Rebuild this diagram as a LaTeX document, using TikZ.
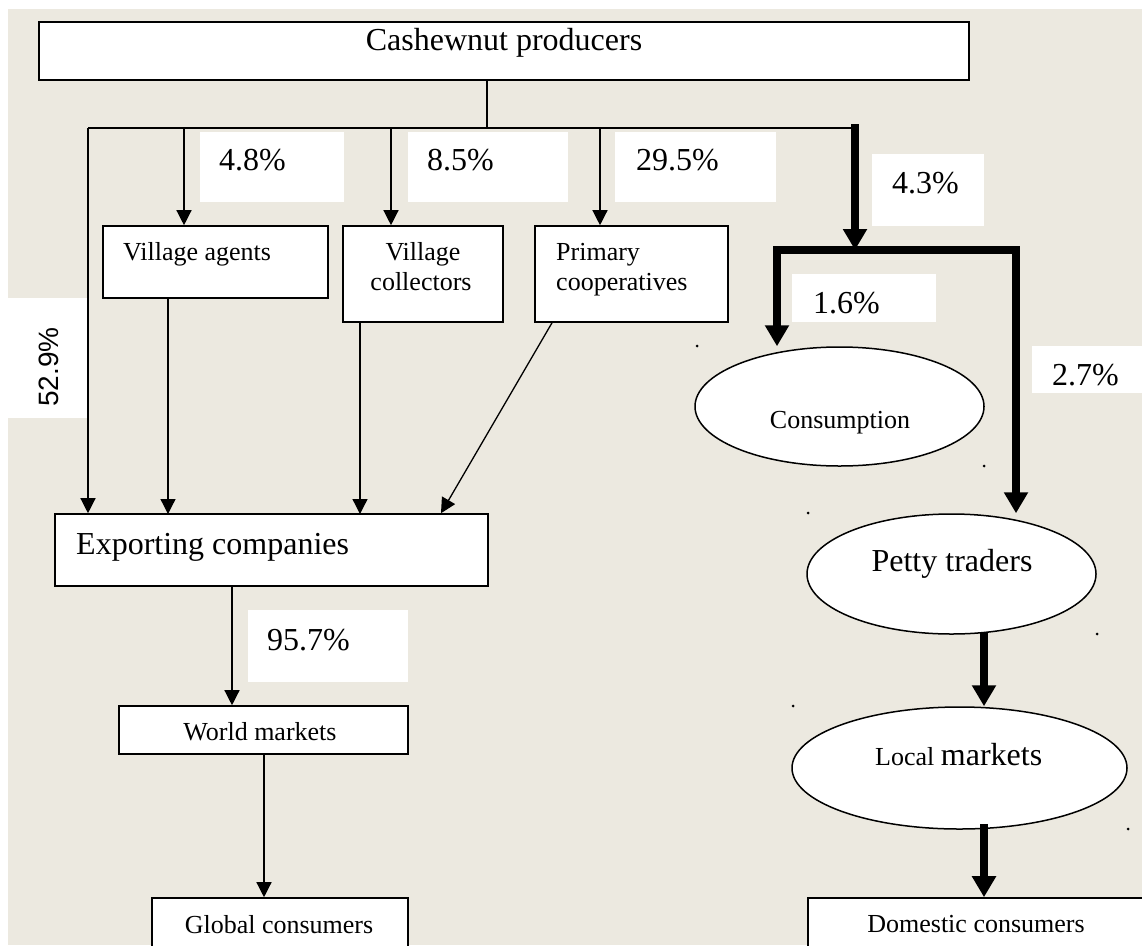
\documentclass[tikz,border=0pt]{standalone}
\usepackage{fontspec}
\setmainfont{Liberation Serif}
\newfontfamily\pctsans{Liberation Sans}
\usepackage{tikz}
\usetikzlibrary{shapes,arrows,positioning,calc}
\usetikzlibrary{arrows.meta}
\tikzset{>={Triangle[width=15pt,length=15pt]}}
\definecolor{paper}{RGB}{236,233,224}
\newcommand{\smalltxt}{\fontsize{26}{30}\selectfont}
\newcommand{\bigtxt}{\fontsize{32}{36}\selectfont}

\begin{document}
\begin{tikzpicture}[x=1pt, y=-1pt,
    box/.style={rectangle, draw, fill=white, line width=1.6pt, inner sep=0pt},
    oval/.style={ellipse, draw, fill=white, line width=1.5pt, inner sep=0pt},
    pct/.style={rectangle, fill=white, inner sep=0pt},
    txt/.style={inner sep=0pt, anchor=base},
    link/.style={line width=1.3pt},
    flow/.style={->, line width=1.3pt},
    bigflow/.style={-{Triangle[width=23pt,length=21pt]}, line width=8pt}]
    \useasboundingbox (0,0) rectangle (1142,945);
    \clip (0,0) rectangle (1142,945);
    \fill[white] (0,0) rectangle (1142,945);
    \fill[paper] (8,9) rectangle (1142,945);

    % percentage boxes
    \node[pct, minimum width=144pt, minimum height=70pt] (p48) at (272,167) {};
    \node[pct, minimum width=160pt, minimum height=70pt] (p85) at (488,167) {};
    \node[pct, minimum width=161pt, minimum height=70pt] (p295) at (695.5,167) {};
    \node[pct, minimum width=112pt, minimum height=72pt] (p43) at (928,190) {};
    \node[pct, minimum width=144pt, minimum height=48pt] (p16) at (864,298) {};
    \node[pct, minimum width=112pt, minimum height=47pt] (p27) at (1088,369.5) {};
    \node[pct, minimum width=160pt, minimum height=72pt] (p957) at (328,646) {};
    \node[pct, minimum width=80pt, minimum height=120pt] (p529) at (47,358) {};
    \node[txt, anchor=base west] at (219,170) {\bigtxt 4.8\%};
    \node[txt, anchor=base west] at (427,170) {\bigtxt 8.5\%};
    \node[txt, anchor=base west] at (636,170) {\bigtxt 29.5\%};
    \node[txt, anchor=base west] at (892,193) {\bigtxt 4.3\%};
    \node[txt, anchor=base west] at (813,313) {\bigtxt 1.6\%};
    \node[txt, anchor=base west] at (1052,385) {\bigtxt 2.7\%};
    \node[txt, anchor=base west] at (267,650) {\bigtxt 95.7\%};
    \node[txt, rotate=90] at (58,367) {\pctsans\fontsize{28}{32}\selectfont 52.9\%};

    % actors
    \node[box, minimum width=930pt, minimum height=58pt] (prod) at (504,51) {};
    \node[box, minimum width=225pt, minimum height=72pt] (agents) at (215.5,262) {};
    \node[box, minimum width=160pt, minimum height=96pt] (coll) at (423,274) {};
    \node[box, minimum width=193pt, minimum height=96pt] (coop) at (631.5,274) {};
    \node[box, minimum width=433pt, minimum height=72pt] (exp) at (271.5,550) {};
    \node[box, minimum width=289pt, minimum height=48pt] (world) at (263.5,730) {};
    \node[box, minimum width=256pt, minimum height=80pt] (global) at (280,938) {};
    \node[box, minimum width=360pt, minimum height=80pt] (domestic) at (988,938) {};
    \node[oval, minimum width=289pt, minimum height=119pt] (cons) at (839.5,406.5) {};
    \node[oval, minimum width=289pt, minimum height=120pt] (petty) at (951.5,574) {};
    \node[oval, minimum width=335pt, minimum height=122pt] (local) at (959.5,768) {};

    \node[txt] at (504,50) {\bigtxt Cashewnut producers};
    \node[txt, anchor=base west] at (123,260) {\smalltxt Village agents};
    \node[txt] at (423,260) {\smalltxt Village};
    \node[txt] at (421,290) {\smalltxt collectors};
    \node[txt, anchor=base west] at (556,260) {\smalltxt Primary};
    \node[txt, anchor=base west] at (556,290) {\smalltxt cooperatives};
    \node[txt] at (840,428) {\smalltxt Consumption};
    \node[txt, anchor=base west] at (76,554) {\bigtxt Exporting companies};
    \node[txt] at (260,740) {\smalltxt World markets};
    \node[txt] at (279,933) {\smalltxt Global consumers};
    \node[txt] at (952,571) {\bigtxt Petty traders};
    \node[txt, anchor=base west] at (875,765) {\smalltxt Local \bigtxt markets};
    \node[txt] at (976,932) {\smalltxt Domestic consumers};

    % branch points
    \coordinate (split) at (487,128);
    \coordinate (busl) at (88,128);
    \coordinate (busr) at (855,128);
    \coordinate (b1) at (184,128);
    \coordinate (b2) at (391,128);
    \coordinate (b3) at (600,128);
    \coordinate (in1) at (168,514);
    \coordinate (in2) at (360,514);
    \coordinate (in3) at (441,514);
    \coordinate (out3) at (552,322);
    \coordinate (fork) at (855,250);
    \coordinate (forkl) at (777,250);
    \coordinate (forkr) at (1016,250);
    \coordinate (down1) at (232,0);
    \coordinate (down2) at (264,0);
    \coordinate (down3) at (984,0);

    \draw[link] (prod.south -| split) -- (split);
    \draw[link] (busl) -- (busr);
    \draw[flow] (busl) -- (busl |- exp.north);
    \draw[flow] (b1) -- (b1 |- agents.north);
    \draw[flow] (b2) -- (b2 |- coll.north);
    \draw[flow] (b3) -- (b3 |- coop.north);
    \draw[flow] (in1 |- agents.south) -- (in1);
    \draw[flow] (in2 |- coll.south) -- (in2);
    \draw[flow] (coop.south -| out3) -- (exp.north -| in3);
    \draw[flow] (exp.south -| down1) -- (world.north -| down1);
    \draw[flow] (world.south -| down2) -- (global.north -| down2);

    \draw[bigflow] ([yshift=4pt]busr) -- (fork);
    \draw[bigflow] (fork) -| (forkl |- cons.north);
    \draw[bigflow] (fork) -| (forkr |- petty.north);
    \draw[bigflow] ([yshift=3pt]petty.south -| down3) -- (local.north -| down3);
    \draw[bigflow] ([yshift=6pt]local.south -| down3) -- (domestic.north -| down3);

    % stray marks
    \foreach \p in {(697,346),(984,466),(808,513),(1097,634),(793,706),(1128,829)}
        \fill \p circle (1.5);
\end{tikzpicture}
\end{document}
